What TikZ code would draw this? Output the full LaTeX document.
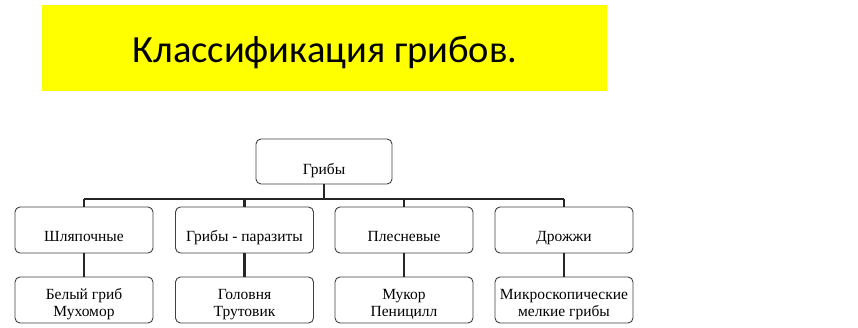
\documentclass[tikz,border=0pt]{standalone}
\usepackage{fontspec}
\setmainfont{Liberation Serif}
\newfontfamily\titlefont{Carlito}
\definecolor{ttlyellow}{RGB}{255,255,0}
\begin{document}
\begin{tikzpicture}[x=1pt,y=-1pt,
  box/.style={draw=black!75, line width=0.9pt, rounded corners=5pt, fill=white, inner sep=0pt},
  txt/.style={inner sep=0pt, anchor=base, align=center, font=\fontsize{15.5}{17}\selectfont},
  conn/.style={line width=2.2pt, black!85}]
\useasboundingbox (0,0) rectangle (858,327);
\fill[white] (0,0) rectangle (858,327);
\fill[ttlyellow] (42,5) rectangle (607,91);
\node[font=\titlefont\fontsize{38.5}{44}\selectfont, inner sep=0pt, anchor=base] (title) at (325,62.3) {Классификация грибов.};
% top node
\node[box, minimum width=136pt, minimum height=45pt] (root) at (324,161.5) {};
\node[txt] (roott) at (324,174) {Грибы};
% bar
\coordinate (bl) at (84,199);
\coordinate (br) at (564,199);
\coordinate (bm) at (324,199);
\draw[conn] (root.south) -- (bm);
\draw[conn] (bl) -- (br);
% level 2
\foreach \n/\x/\t in {a/84/Шляпочные, b/244.5/Грибы - паразиты, c/404/Плесневые, d/564/Дрожжи}{
  \coordinate (\n top) at (\x,199);
  \node[box, minimum width=138pt, minimum height=46pt] (\n) at (\x,230) {};
  \draw[conn] (\n top) -- (\n.north);
  \node[txt] (\n t) at (\x,241.5) {\t};
  \node[box, minimum width=138pt, minimum height=46pt] (\n3) at (\x,300) {};
  \draw[conn] (\n) -- (\n3);
}
\node[txt] (a3t) at (84,316) {Белый гриб\\Мухомор};
\node[txt] (b3t) at (244.5,316) {Головня\\Трутовик};
\node[txt] (c3t) at (404,316) {Мукор\\Пеницилл};
\node[txt] (d3t) at (564,316) {Микроскопические\\мелкие грибы};
\end{tikzpicture}
\end{document}
